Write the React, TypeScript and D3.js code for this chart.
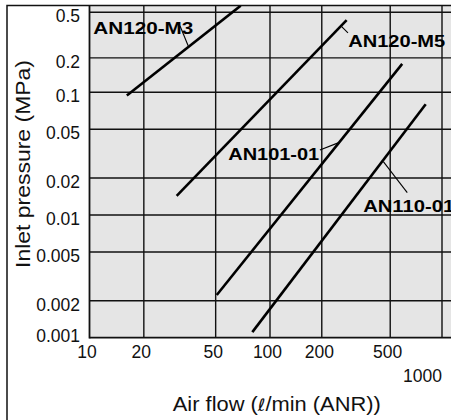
import React from "react";
import * as d3 from "d3";

// ---- data ----
const xTicks = [10, 20, 50, 100, 200, 500, 1000];
const xTickLabels = ["10", "20", "50", "100", "200", "500", "1000"];
const yTicks = [0.001, 0.002, 0.005, 0.01, 0.02, 0.05, 0.1, 0.2, 0.5];
const yTickLabels = ["0.001", "0.002", "0.005", "0.01", "0.02", "0.05", "0.1", "0.2", "0.5"];

const seriesNames = ["AN120-M3", "AN120-M5", "AN101-01", "AN110-01"];
// [air flow, inlet pressure] endpoints of each characteristic
const an120M3 = [[16.1, 0.094], [68.8, 0.571]];
const an120M5 = [[30.4, 0.0143], [279, 0.428]];
const an101 = [[50.7, 0.00223], [587, 0.177]];
const an110 = [[79.8, 0.00111], [804, 0.0798]];
const seriesData = [an120M3, an120M5, an101, an110];

// label anchor (left/baseline) and leader line, in data units
const labelPos = [[10.5, 0.325], [285, 0.25], [58.7, 0.028], [348, 0.0106]];
const leaderFrom = [[31.7, 0.382], [261, 0.374], [195, 0.0339], [456, 0.0272]];
const leaderTo = [[35.2, 0.255], [284, 0.33], [249, 0.0387], [628, 0.0152]];
const labelWidths = [100, 97, 91, 91];

const W = 451;
const H = 420;
const plotLeft = 89.5;
const plotTop = 5.7;
const plotBottom = 337.7;
const plotRight = 455;

export default function App() {
  const x = d3.scaleLog().domain([10, 100, 1000]).range([plotLeft, 270, 442]);
  const y = d3.scaleLog().domain([0.001, 0.01, 0.1, 0.5]).range([plotBottom, 215, 92.3, 12.3]);
  const line = d3
    .line<number[]>()
    .x((d) => x(d[0]))
    .y((d) => y(d[1]));

  const font = "'Liberation Sans', Arial, Helvetica, sans-serif";

  return (
    <svg
      width={W}
      height={H}
      style={{ position: "absolute", left: 0, top: 0, background: "#fff" }}
      fontFamily={font}
    >
      <defs>
        <clipPath id="plotclip">
          <rect x={plotLeft} y={plotTop} width={plotRight - plotLeft} height={plotBottom - plotTop} />
        </clipPath>
      </defs>
      {/* plot background */}
      <rect x={plotLeft} y={plotTop} width={plotRight - plotLeft} height={plotBottom - plotTop} fill="#e5e5e5" />
      {/* grid */}
      {xTicks.slice(1).map((t) => (
        <line key={"gx" + t} x1={x(t)} x2={x(t)} y1={plotTop} y2={plotBottom} stroke="#111" strokeWidth={1.4} />
      ))}
      {yTicks.slice(1).map((t) => (
        <line key={"gy" + t} x1={plotLeft} x2={plotRight} y1={y(t)} y2={y(t)} stroke="#111" strokeWidth={1.4} />
      ))}
      {/* axes lines */}
      <line x1={plotLeft} x2={plotLeft} y1={plotTop} y2={plotBottom + 0.8} stroke="#111" strokeWidth={1.8} />
      <line x1={plotLeft} x2={plotRight} y1={plotBottom} y2={plotBottom} stroke="#111" strokeWidth={1.8} />
      {/* outer frame */}
      <rect x={7} y={5.5} width={470} height={440} fill="none" stroke="#111" strokeWidth={1.5} />

      {/* series */}
      <g clipPath="url(#plotclip)">
        {seriesData.map((s, i) => (
          <path key={seriesNames[i]} d={line(s) || ""} fill="none" stroke="#000" strokeWidth={2.6} />
        ))}
        {seriesNames.map((n, i) => (
          <line
            key={"ld" + n}
            x1={x(leaderFrom[i][0])}
            y1={y(leaderFrom[i][1])}
            x2={x(leaderTo[i][0])}
            y2={y(leaderTo[i][1])}
            stroke="#000"
            strokeWidth={1.1}
          />
        ))}
      </g>
      {seriesNames.map((n, i) => (
        <text
          key={"lb" + n}
          x={x(labelPos[i][0])}
          y={y(labelPos[i][1])}
          fontSize={16}
          fontWeight="bold"
          textLength={labelWidths[i]}
          lengthAdjust="spacingAndGlyphs"
          fill="#000"
        >
          {n}
        </text>
      ))}

      {/* y tick labels */}
      {yTicks.map((t, i) => (
        <text
          key={"yl" + t}
          x={80}
          y={y(t) + (t === 0.001 ? -1.7 : 4)}
          dy="0.35em"
          textAnchor="end"
          fontSize={17.5}
          fill="#111"
        >
          {yTickLabels[i]}
        </text>
      ))}
      {/* x tick labels */}
      {xTicks.map((t, i) =>
        t === 1000 ? (
          <text key={"xl" + t} x={x(t)} y={381.7} textAnchor="end" fontSize={17.5} fill="#111">
            {xTickLabels[i]}
          </text>
        ) : (
          <text key={"xl" + t} x={x(t) - 2.5} y={357.8} textAnchor="middle" fontSize={17.5} fill="#111">
            {xTickLabels[i]}
          </text>
        )
      )}

      {/* axis titles */}
      <text x={276.8} y={411} textAnchor="middle" fontSize={20} fill="#111" textLength={208} lengthAdjust="spacingAndGlyphs">
        Air flow (<tspan fontStyle="italic" fontFamily="'DejaVu Sans', sans-serif" fontSize={17}>ℓ</tspan>/min (ANR))
      </text>
      <text
        transform={`translate(29.5,164) rotate(-90)`}
        textAnchor="middle"
        fontSize={20}
        fill="#111"
        textLength={208}
        lengthAdjust="spacingAndGlyphs"
      >
        Inlet pressure (MPa)
      </text>
    </svg>
  );
}
